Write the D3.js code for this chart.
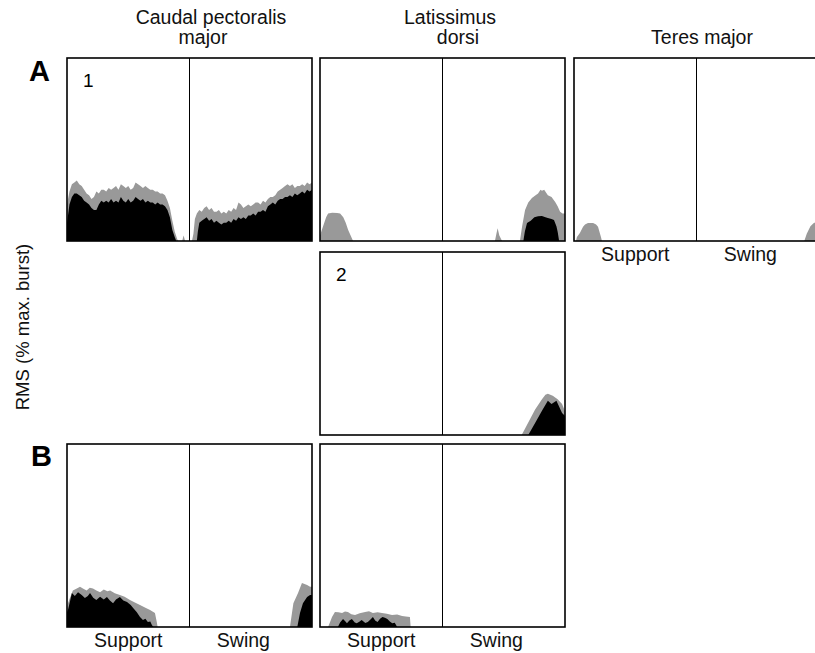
<!DOCTYPE html>
<html>
<head>
<meta charset="utf-8">
<script src="https://cdn.jsdelivr.net/npm/d3@7"></script>
<style>
  html, body { margin: 0; padding: 0; background: #fff; }
  svg { display: block; font-family: "Liberation Sans", Arial, Helvetica, sans-serif; }
</style>
</head>
<body>
<svg id="chart" width="815" height="653"></svg>
<script>
// muscle column titles (one entry per line)
const muscleTitles = [["Caudal pectoralis", "major"], ["Latissimus", "dorsi"], ["Teres major"]];
const phaseLabels = ["Support", "Swing"];
const yLabel = "RMS (% max. burst)";

// RMS traces: [stride phase %, RMS % of panel max]; gray = mean + s.d., black = mean
const a1Gray = [[0,20],[1,27],[2,31],[3,32],[4,33],[5,31],[6,30],[7,28],[8,26],[9,25],[10,23],[11,24],[12,27],[13,26],[14,28],[15,28],[16,27],[17,29],[18,28],[19,29],[20,30],[21,28],[22,31],[23,30],[24,29],[25,30],[26,28],[27,29],[28,32],[29,31],[30,30],[31,29],[32,30],[33,29],[34,28],[35,28],[36,27],[37,27],[38,26],[39,26],[40,25],[41,22],[42,18],[43,11],[44,5],[45,1],[45.5,0],[47,0],[47.6,3],[48.2,0],[51,0],[51.6,4],[52.2,12],[53,15],[54,17],[55,16],[56,18],[57,19],[58,17],[59,18],[60,16],[61,16],[62,17],[63,15],[64,16],[65,15],[66,17],[67,16],[68,18],[69,17],[70,21],[71,20],[72,18],[73,19],[74,20],[75,19],[76,20],[77,21],[78,21],[79,20],[80,22],[81,21],[82,23],[83,24],[84,24],[85,25],[86,27],[87,28],[88,29],[89,30],[90,31],[91,30],[92,31],[93,29],[94,30],[95,30],[96,31],[97,30],[98,32],[99,31],[100,32]];
const a1Black = [[0,10],[1,20],[2,24],[3,26],[4,26],[5,25],[6,24],[7,22],[8,21],[9,20],[10,18],[11,17],[12,17],[13,20],[14,22],[15,21],[16,22],[17,21],[18,23],[19,21],[20,22],[21,21],[22,24],[23,22],[24,21],[25,23],[26,21],[27,22],[28,24],[29,23],[30,22],[31,23],[32,21],[33,22],[34,21],[35,21],[36,20],[37,21],[38,20],[39,20],[40,19],[41,17],[42,13],[43,6],[44,2],[44.6,0],[53,0],[53.4,5],[54,10],[55,11],[56,12],[57,13],[58,11],[59,12],[60,10],[61,11],[62,10],[63,9],[64,10],[65,10],[66,11],[67,10],[68,12],[69,11],[70,13],[71,12],[72,13],[73,12],[74,14],[75,14],[76,15],[77,14],[78,16],[79,16],[80,17],[81,16],[82,19],[83,20],[84,21],[85,20],[86,22],[87,23],[88,23],[89,24],[90,24],[91,25],[92,24],[93,26],[94,25],[95,26],[96,27],[97,26],[98,28],[99,27],[100,28]];

const latAGray = [[0,3],[0.5,5],[1.5,9],[2.5,13],[3.3,15],[5,15.5],[7,15.3],[8.2,15],[9.5,13],[10.5,10],[11.5,6],[12.5,3],[13.5,0],[71.4,0],[72,4],[72.5,7],[73.2,3],[74.3,0],[81.6,0],[82.5,8],[83.7,17],[85,21],[86.5,23.5],[88,25],[89,26],[90,28],[90.6,27.5],[91.5,28],[93,25],[94.5,24],[96,21.3],[97,19],[98,16],[99,15],[100,15]];
const latABlack = [[0,0],[83,0],[83.6,5],[84.5,9.8],[86,11],[87.5,13],[89,13.5],[90.6,13.7],[92,13],[93,12.6],[94.5,12],[95.5,11.5],[96.5,8],[97,5],[97.6,0],[100,0]];

const teresGray = [[0,0],[0.8,0],[1.2,2.2],[2.4,4.4],[3.7,7.8],[4.5,9],[5.7,9.8],[7.8,9.8],[9,9],[9.8,7.8],[11,2.2],[11.4,0],[94,0],[95,4],[96.5,8],[98,10],[100,10]];
const teresBlack = [];

const lat2Gray = [[0,0],[82.3,0],[83.5,3],[85,6.8],[87.8,14],[90.6,19.6],[92,22],[93,22.5],[95,21.4],[97,19.6],[98.8,17],[100,13]];
const lat2Black = [[0,0],[85,0],[87.8,6.6],[90.6,13.2],[93,18.7],[94.5,17],[96.5,18.7],[98.8,12],[100,10.4]];

const b1Gray = [[0,10],[0.4,13],[1.5,17],[2.4,20],[4,21],[5.3,22],[6.5,21],[8,20],[9.3,21.5],[10.6,21],[12,20],[13.5,19],[15,20.5],[16.5,19.5],[17.6,20],[19.5,18.5],[21.6,17.5],[23.5,16.5],[25.7,14.8],[27.5,13.5],[29.8,12],[32,10.5],[33.9,9.3],[35.9,7.7],[36.6,3],[37,0],[91,0],[92.4,13],[94.3,18.6],[95.9,24],[98,23],[99.2,22],[100,22]];
const b1Black = [[0,8],[0.4,9.3],[2,18.6],[3.2,17],[4.5,19],[6,17.5],[7.3,15.8],[8.5,17],[9.4,18.6],[10.7,16],[12,14.8],[13.5,16.5],[15,15],[16.3,16.4],[17.5,14.5],[18.8,13],[20,15],[21.6,16.4],[23,14.5],[24.5,13.7],[26,12],[27,10.4],[28.5,8],[29.8,5.5],[31,3.8],[32,4.5],[33,2.7],[34,3],[34.7,1],[35.3,0],[94,0],[95.1,7.7],[96.3,13],[98,16.4],[99.2,17.5],[100,17.5]];

const b2Gray = [[0,0],[3.3,0],[4.2,3],[4.9,5.5],[6.1,8.2],[7.5,8],[9,7.7],[10.2,8.5],[11.4,8.2],[12.8,7],[14.3,6.6],[16.2,7.5],[18.4,8.2],[20,8.6],[21.6,7.7],[23.5,8],[25.3,7.7],[27.3,7.2],[29.4,6.6],[31.5,6.8],[33.5,6],[35,5.8],[36.7,5.5],[37,0],[100,0]];
const b2Black = [[0,0],[7.3,0],[8.2,2.5],[9.4,4.4],[10.4,3],[11,2],[12,3.5],[13,4.4],[14.2,2.5],[15,2],[16.2,3],[17,3.8],[18.5,2.2],[19.5,2.7],[20.5,4],[21.6,5.5],[22.5,3.5],[23.5,2.7],[24.5,4.5],[25.5,5.5],[26.5,5],[27.5,4.4],[28.5,3],[29.5,2],[30.5,2.3],[31.5,0],[100,0]];

// panel grid: col = muscle, row = 0 (A), 1 (A, individual 2), 2 (B)
const panels = [
  { col: 0, row: 0, tag: "1", gray: a1Gray, black: a1Black, phases: false },
  { col: 1, row: 0, tag: "",  gray: latAGray, black: latABlack, phases: false },
  { col: 2, row: 0, tag: "",  gray: teresGray, black: teresBlack, phases: true },
  { col: 1, row: 1, tag: "2", gray: lat2Gray, black: lat2Black, phases: false },
  { col: 0, row: 2, tag: "",  gray: b1Gray, black: b1Black, phases: true },
  { col: 1, row: 2, tag: "",  gray: b2Gray, black: b2Black, phases: true }
];

const colX = [67, 320, 574];
const rowY = [58, 252, 444];
const pw = 245, ph = 183;

const svg = d3.select("#chart");

const x = d3.scaleLinear().domain([0, 100]).range([0, pw]);
const y = d3.scaleLinear().domain([0, 100]).range([ph, 0]);

const area = d3.area()
  .x(d => x(d[0]))
  .y0(y(0))
  .y1(d => y(d[1]))
  .curve(d3.curveLinear);

// column titles
const titleCentres = [[211, 203], [450, 458], [702]];
muscleTitles.forEach((lines, i) => {
  const first = lines.length === 1 ? 44 : 24;
  lines.forEach((line, j) => {
    svg.append("text")
      .attr("x", titleCentres[i][j])
      .attr("y", first + j * 20)
      .attr("text-anchor", "middle")
      .attr("font-size", "19.5px")
      .attr("fill", "#111")
      .text(line);
  });
});

const g = svg.selectAll("g.panel")
  .data(panels)
  .enter()
  .append("g")
  .attr("class", "panel")
  .attr("transform", d => `translate(${colX[d.col]},${rowY[d.row]})`);

g.append("path")
  .attr("d", d => area(d.gray))
  .attr("fill", "#999");

g.append("path")
  .attr("d", d => d.black.length ? area(d.black) : null)
  .attr("fill", "#000");

g.append("line")
  .attr("x1", x(50)).attr("x2", x(50))
  .attr("y1", 0).attr("y2", ph)
  .attr("stroke", "#000")
  .attr("stroke-width", 1);

g.append("rect")
  .attr("width", pw)
  .attr("height", ph)
  .attr("fill", "none")
  .attr("stroke", "#000")
  .attr("stroke-width", 1.6);

g.append("text")
  .attr("x", 16)
  .attr("y", 29)
  .attr("font-size", "19px")
  .text(d => d.tag);

// Support / Swing under the lowest panel of each column
g.filter(d => d.phases)
  .selectAll("text.phase")
  .data(phaseLabels)
  .enter()
  .append("text")
  .attr("class", "phase")
  .attr("x", (d, i) => i === 0 ? x(25) : x(72))
  .attr("y", ph + 20)
  .attr("text-anchor", "middle")
  .attr("font-size", "19.5px")
  .attr("fill", "#111")
  .text(d => d);

// row letters
svg.append("text")
  .attr("x", 29).attr("y", 81)
  .attr("font-size", "29px").attr("font-weight", "bold")
  .text("A");
svg.append("text")
  .attr("x", 31).attr("y", 466)
  .attr("font-size", "29px").attr("font-weight", "bold")
  .text("B");

svg.append("text")
  .attr("transform", "translate(29,327) rotate(-90)")
  .attr("text-anchor", "middle")
  .attr("font-size", "18.5px")
  .attr("fill", "#111")
  .text(yLabel);
</script>
</body>
</html>
